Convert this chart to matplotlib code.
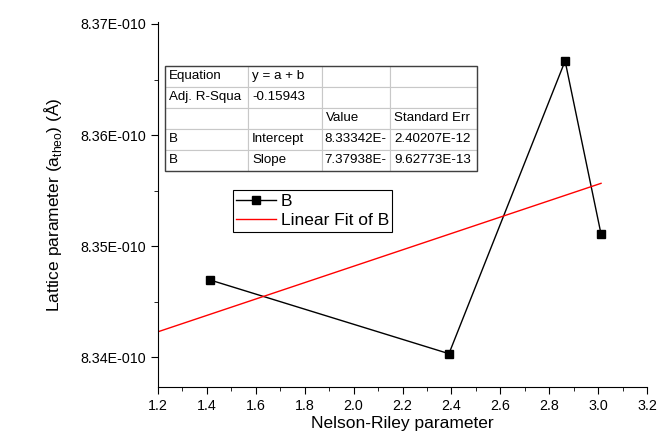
import numpy as np
import matplotlib.pyplot as plt
from matplotlib.ticker import FuncFormatter, MultipleLocator
from matplotlib.patches import Rectangle

plt.rcParams['font.family'] = ['Liberation Sans', 'DejaVu Sans']

# Data
nr_param = [1.413, 2.39, 2.865, 3.012]
lattice = [8.34694e-10, 8.3403e-10, 8.36667e-10, 8.35108e-10]

# Linear fit parameters (from the fit table)
intercept = 8.33342e-10
slope = 7.37938e-13

table_rows = [
    ["Equation", "y = a + b", "", ""],
    ["Adj. R-Squa", "-0.15943", "", ""],
    ["", "", "Value", "Standard Err"],
    ["B", "Intercept", "8.33342E-", "2.40207E-12"],
    ["B", "Slope", "7.37938E-", "9.62773E-13"],
]

fig = plt.figure(figsize=(6.59, 4.36), dpi=100)
ax = fig.add_axes([158 / 659, 1 - 387 / 436, 489 / 659, 365 / 436])

ax.plot(nr_param, lattice, color="black", lw=1, marker="s", ms=6,
        mfc="black", mec="black", label="B")
fit_x = np.array([1.2, max(nr_param)])
ax.plot(fit_x, intercept + slope * fit_x, color="red", lw=1,
        label="Linear Fit of B")

ax.set_xlim(1.2, 3.2)
ax.set_ylim(8.3373e-10, 8.37018e-10)
ax.xaxis.set_major_locator(MultipleLocator(0.2))
ax.xaxis.set_minor_locator(MultipleLocator(0.1))
ax.yaxis.set_major_locator(MultipleLocator(0.01e-10))
ax.yaxis.set_minor_locator(MultipleLocator(0.005e-10))
ax.xaxis.set_major_formatter(FuncFormatter(lambda v, p: f"{v:.1f}"))
ax.yaxis.set_major_formatter(FuncFormatter(lambda v, p: f"{v * 1e10:.2f}E-010"))
ax.tick_params(which="both", direction="out", labelsize=10.3)
ax.tick_params(which="major", length=5)
ax.tick_params(which="minor", length=3)
ax.spines["top"].set_visible(False)
ax.spines["right"].set_visible(False)

ax.set_xlabel("Nelson-Riley parameter", fontsize=12.5, labelpad=2)
ax.set_ylabel("Lattice parameter (a$_{\\mathregular{theo}}$) (Å)", fontsize=12.5,
              labelpad=12)

# Fit results table
col_w = [83, 74, 68, 87]
x0 = (165 - 158) / 489
y0 = (387 - 171) / 365
w_tot = sum(col_w) / 489
h_tot = 105 / 365
tbl = ax.table(cellText=table_rows, colWidths=[c / 489 for c in col_w],
               bbox=[x0, y0, w_tot, h_tot], cellLoc="left")
tbl.auto_set_font_size(False)
for (r, c), cell in tbl.get_celld().items():
    cell.set_edgecolor("#c8c8c8")
    cell.set_linewidth(0.8)
    cell.set_text_props(fontsize=9.6)
    cell.PAD = 4 / col_w[c]
    if c == 2 and r >= 3:
        cell.get_text().set_horizontalalignment("right")
        cell._loc = "right"
ax.add_patch(Rectangle((x0, y0), w_tot, h_tot, transform=ax.transAxes,
                       fill=False, edgecolor="#404040", lw=1, zorder=5))

leg = ax.legend(loc="upper left", bbox_to_anchor=(233 / 659, 1 - 190 / 436),
                bbox_transform=fig.transFigure, fontsize=12.5, frameon=True,
                fancybox=False, edgecolor="black", framealpha=1,
                borderpad=0.2, handlelength=2.3, handletextpad=0.25,
                labelspacing=0.25, borderaxespad=0)
leg.get_frame().set_linewidth(0.8)

plt.savefig("out.png", dpi=100)
